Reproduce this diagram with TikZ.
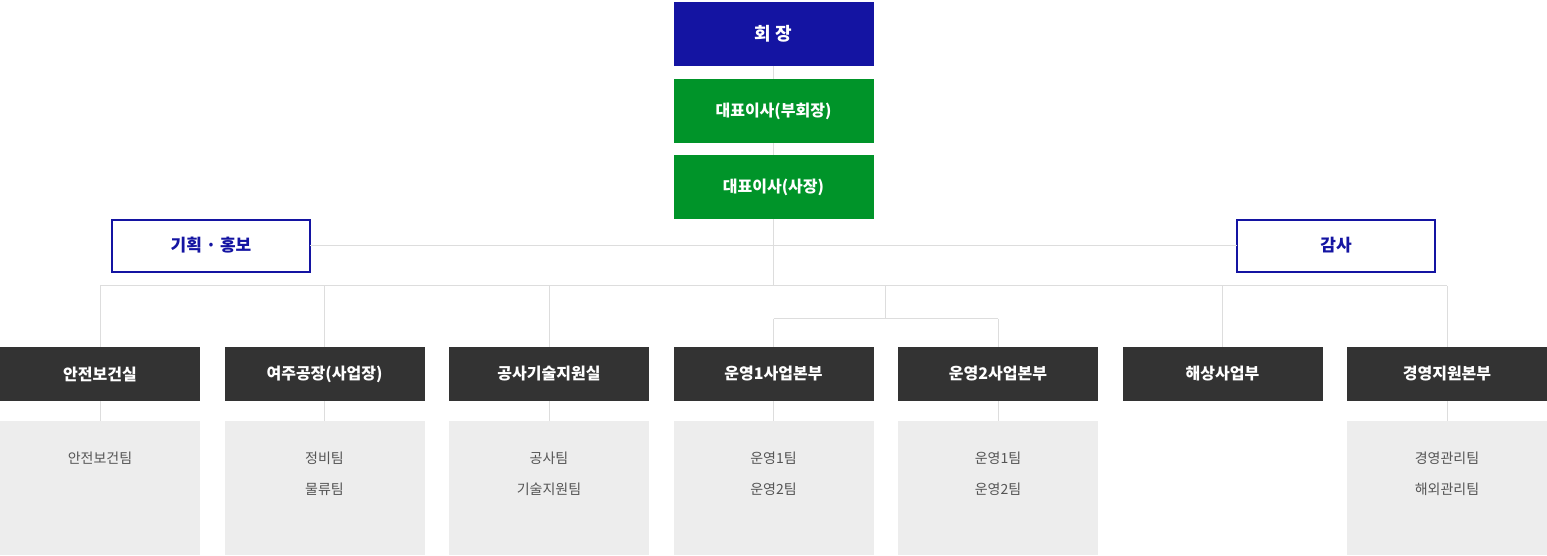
\documentclass[tikz,border=0pt]{standalone}
\usepackage{fontspec}
\setmainfont{Noto Sans CJK KR}
\usetikzlibrary{positioning}
\definecolor{chairblue}{RGB}{20,20,162}
\definecolor{boardgreen}{RGB}{0,148,41}
\definecolor{deptgray}{RGB}{51,51,51}
\definecolor{teamgray}{RGB}{237,237,237}
\definecolor{linegray}{RGB}{221,221,221}
\definecolor{teamfg}{RGB}{85,85,85}
\begin{document}
\begin{tikzpicture}[x=1pt, y=-1pt,
  every node/.style = {shape=rectangle, align=center, inner sep=0pt,
    outer sep=0pt, minimum width=200pt, text=white,
    font=\bfseries\fontsize{16}{19}\selectfont},
  teambox/.style = {fill=teamgray, minimum height=134pt,
    label={[teamlist]north:#1}}]
  \tikzstyle{headbox}=[fill=chairblue, minimum height=64pt,
    font=\bfseries\fontsize{18}{21}\selectfont]
  \tikzstyle{boardbox}=[fill=boardgreen, minimum height=64pt]
  \tikzstyle{staffbox}=[draw=chairblue, line width=2pt, text=chairblue,
    minimum width=198pt, minimum height=52pt,
    font=\bfseries\fontsize{17}{20}\selectfont]
  \tikzstyle{deptbox}=[fill=deptgray, minimum height=54pt]
  \tikzstyle{teamlist}=[anchor=north, yshift=-31pt, minimum width=0pt,
    text=teamfg, font=\fontsize{14}{31}\selectfont]
  \tikzstyle{conn}=[draw=linegray, line width=1pt]
  \useasboundingbox (0,0) rectangle (1547,555);
  % top of the chart
  \node [headbox] (chair) at (773.5,34) {회 장};
  \node [boardbox, below=13pt of chair] (vice) {대표이사(부회장)};
  \node [boardbox, below=12pt of vice] (ceo) {대표이사(사장)};
  \node [staffbox] (plan) at (211,245.5) {기획 · 홍보};
  \node [staffbox] (audit) at (1336,245.5) {감사};
  % departments
  \node [deptbox] (safety) at (100,374) {안전보건실};
  \node [deptbox, right=24.5pt of safety] (yeoju) {여주공장(사업장)};
  \node [deptbox, right=24.5pt of yeoju] (tech) {공사기술지원실};
  \node [deptbox, right=24.5pt of tech] (ops1) {운영1사업본부};
  \node [deptbox, right=24.5pt of ops1] (ops2) {운영2사업본부};
  \node [deptbox, right=24.5pt of ops2] (marine) {해상사업부};
  \node [deptbox, right=24.5pt of marine] (mgmt) {경영지원본부};
  % teams
  \node [teambox={안전보건팀}, below=20pt of safety] (safetyT) {};
  \node [teambox={정비팀\\물류팀}, below=20pt of yeoju] (yeojuT) {};
  \node [teambox={공사팀\\기술지원팀}, below=20pt of tech] (techT) {};
  \node [teambox={운영1팀\\운영2팀}, below=20pt of ops1] (ops1T) {};
  \node [teambox={운영1팀\\운영2팀}, below=20pt of ops2] (ops2T) {};
  \node [teambox={경영관리팀\\해외관리팀}, below=20pt of mgmt] (mgmtT) {};
  % connectors
  \coordinate (bus) at (773.5,285.5);
  \coordinate (split) at (885,318.5);
  \draw [conn] (chair) -- (vice);
  \draw [conn] (vice) -- (ceo);
  \draw [conn] (ceo) -- (bus);
  \draw [conn] (plan) -- (audit);
  \draw [conn] (safety |- bus) -- (mgmt |- bus);
  \draw [conn] (safety |- bus) -- (safety);
  \draw [conn] (yeoju |- bus) -- (yeoju);
  \draw [conn] (tech |- bus) -- (tech);
  \draw [conn] (split |- bus) -- (split);
  \draw [conn] (ops1 |- split) -- (ops2 |- split);
  \draw [conn] (ops1 |- split) -- (ops1);
  \draw [conn] (ops2 |- split) -- (ops2);
  \draw [conn] (marine |- bus) -- (marine);
  \draw [conn] (mgmt |- bus) -- (mgmt);
  \draw [conn] (safety) -- (safetyT);
  \draw [conn] (yeoju) -- (yeojuT);
  \draw [conn] (tech) -- (techT);
  \draw [conn] (ops1) -- (ops1T);
  \draw [conn] (ops2) -- (ops2T);
  \draw [conn] (mgmt) -- (mgmtT);
\end{tikzpicture}
\end{document}
